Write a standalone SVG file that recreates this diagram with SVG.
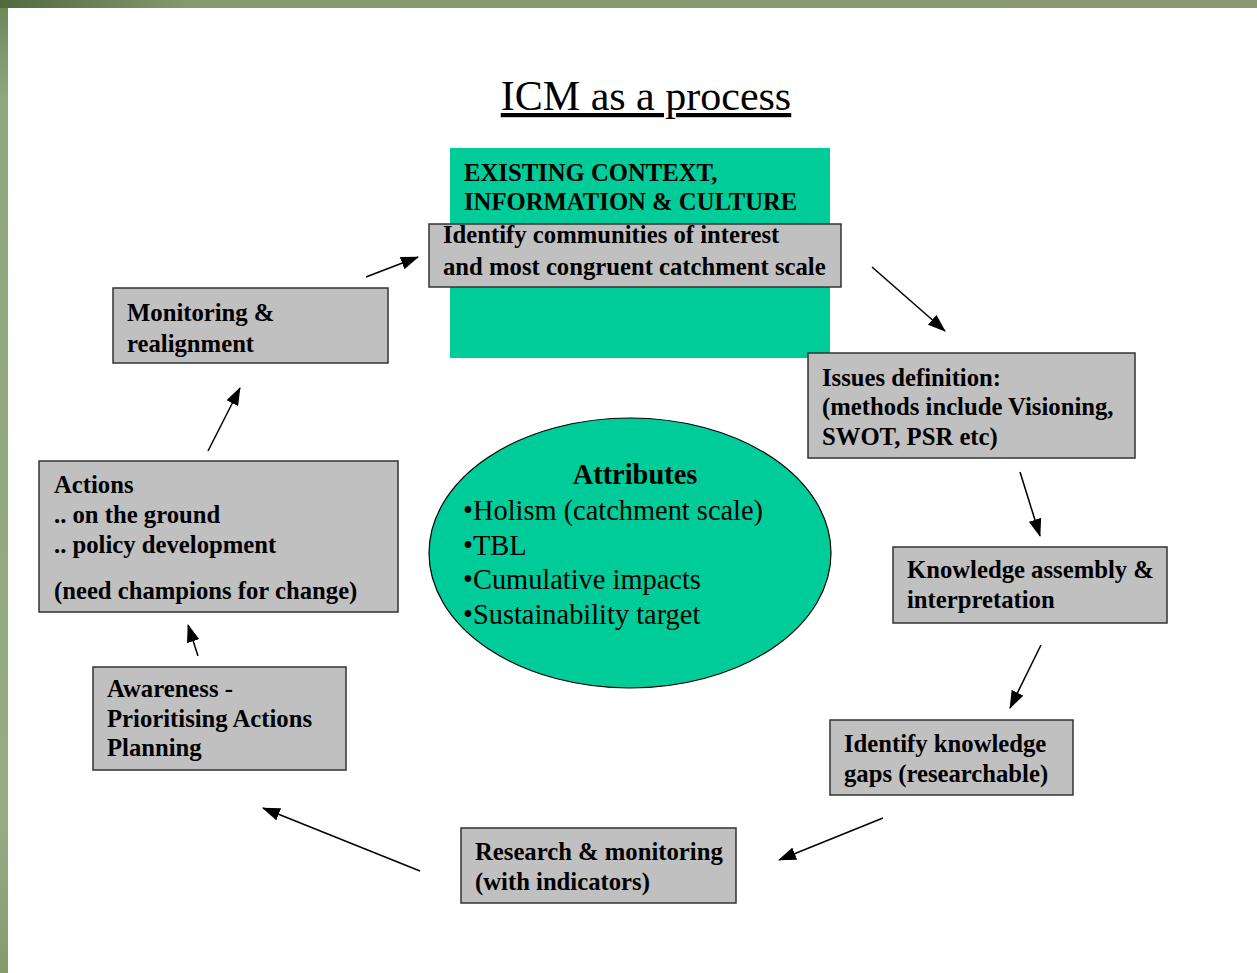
<svg xmlns="http://www.w3.org/2000/svg" width="1257" height="973" viewBox="0 0 1257 973">
<style>
.box{fill:#c0c0c0;stroke:#333;stroke-width:1.5}
.bt{font-family:"Liberation Serif","Times New Roman",serif;font-weight:bold;font-size:24.7px;fill:#000}
.at{font-family:"Liberation Serif","Times New Roman",serif;font-size:28.4px;fill:#000}
.con{stroke:#000;stroke-width:1.5;fill:none;marker-end:url(#ah)}
</style>
<defs>
<marker id="ah" viewBox="0 0 18 13" refX="17" refY="6.5" markerWidth="18" markerHeight="13" markerUnits="userSpaceOnUse" orient="auto">
<path d="M0,0 L18,6.5 L0,13 z" fill="#000"/>
</marker>
<linearGradient id="topg" x1="0" y1="0" x2="1" y2="0">
<stop offset="0" stop-color="#4e6a3e"/>
<stop offset="0.15" stop-color="#859a6c"/>
<stop offset="1" stop-color="#8a9a72"/>
</linearGradient>
<linearGradient id="leftg" x1="0" y1="0" x2="0" y2="1">
<stop offset="0" stop-color="#6a8656"/>
<stop offset="0.1" stop-color="#8ea87e"/>
<stop offset="0.85" stop-color="#93ac84"/>
<stop offset="1" stop-color="#849c6c"/>
</linearGradient>
</defs>
<rect width="1257" height="973" fill="#fff"/>
<rect x="0" y="0" width="8" height="973" fill="url(#leftg)"/>
<rect x="0" y="0" width="1257" height="8" fill="url(#topg)"/>

<text x="646" y="110" text-anchor="middle" font-family="Liberation Serif, Times New Roman, serif" font-size="42" text-decoration="underline">ICM as a process</text>

<g id="context">
<rect x="450" y="148" width="380" height="210" fill="#00cc99"/>
<text class="bt" x="464" y="181">EXISTING CONTEXT,</text>
<text class="bt" x="464" y="210">INFORMATION &amp; CULTURE</text>
</g>
<g id="identify">
<rect class="box" x="429" y="224" width="412" height="63"/>
<text class="bt" x="443" y="243">Identify communities of interest</text>
<text class="bt" x="443" y="275">and most congruent catchment scale</text>
</g>
<g id="issues">
<rect class="box" x="808" y="353" width="327" height="105"/>
<text class="bt" x="822" y="386">Issues definition:</text>
<text class="bt" x="822" y="415">(methods include Visioning,</text>
<text class="bt" x="822" y="445">SWOT, PSR etc)</text>
</g>
<g id="knowledge">
<rect class="box" x="893" y="547" width="274" height="76"/>
<text class="bt" x="907" y="578">Knowledge assembly &amp;</text>
<text class="bt" x="907" y="608">interpretation</text>
</g>
<g id="gaps">
<rect class="box" x="830" y="720" width="243" height="75"/>
<text class="bt" x="844" y="752">Identify knowledge</text>
<text class="bt" x="844" y="782">gaps (researchable)</text>
</g>
<g id="research">
<rect class="box" x="461" y="828" width="275" height="75"/>
<text class="bt" x="475" y="860">Research &amp; monitoring</text>
<text class="bt" x="475" y="890">(with indicators)</text>
</g>
<g id="awareness">
<rect class="box" x="93" y="667" width="253" height="103"/>
<text class="bt" x="107" y="697">Awareness -</text>
<text class="bt" x="107" y="727">Prioritising Actions</text>
<text class="bt" x="107" y="756">Planning</text>
</g>
<g id="actions">
<rect class="box" x="39" y="461" width="359" height="151"/>
<text class="bt" x="54" y="493">Actions</text>
<text class="bt" x="54" y="523">.. on the ground</text>
<text class="bt" x="54" y="553">.. policy development</text>
<text class="bt" x="54" y="599">(need champions for change)</text>
</g>
<g id="monitoring">
<rect class="box" x="113" y="288" width="275" height="75"/>
<text class="bt" x="127" y="321">Monitoring &amp;</text>
<text class="bt" x="127" y="352">realignment</text>
</g>
<g id="attributes">
<ellipse cx="630" cy="553" rx="201" ry="135" fill="#00cc99" stroke="#000" stroke-width="1.2"/>
<text class="at" x="635" y="484" text-anchor="middle" font-weight="bold">Attributes</text>
<text class="at" x="463" y="520">•Holism (catchment scale)</text>
<text class="at" x="463" y="555">•TBL</text>
<text class="at" x="463" y="589">•Cumulative impacts</text>
<text class="at" x="463" y="624">•Sustainability target</text>
</g>

<g id="connectors">
<line class="con" x1="366" y1="277" x2="418" y2="257"/>
<line class="con" x1="872" y1="267" x2="945" y2="331"/>
<line class="con" x1="1020" y1="472" x2="1040" y2="536"/>
<line class="con" x1="1041" y1="645" x2="1010" y2="708"/>
<line class="con" x1="883" y1="818" x2="779" y2="860"/>
<line class="con" x1="420" y1="871" x2="263" y2="808"/>
<line class="con" x1="198" y1="656" x2="188" y2="625"/>
<line class="con" x1="208" y1="451" x2="240" y2="388"/>
</g>
</svg>
